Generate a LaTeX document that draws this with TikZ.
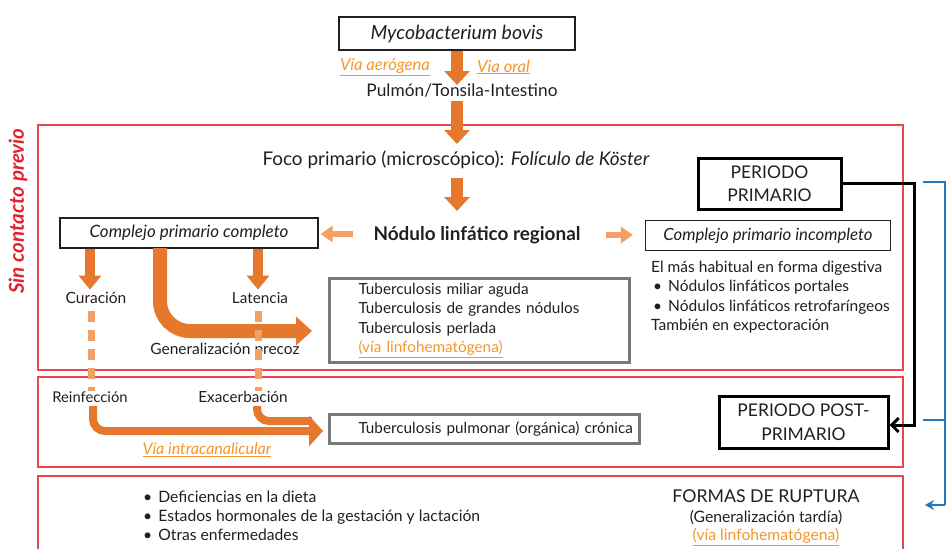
\documentclass[tikz,border=0pt]{standalone}
\usepackage{fontspec}
\setmainfont{Lato}
\usetikzlibrary{arrows.meta}
\definecolor{orA}{RGB}{229,120,45}
\definecolor{orL}{RGB}{242,160,100}
\definecolor{orT}{RGB}{245,150,45}
\definecolor{redB}{RGB}{230,72,78}
\definecolor{redT}{RGB}{226,35,45}
\definecolor{blueB}{RGB}{35,120,190}
\definecolor{grayB}{RGB}{120,120,120}
\definecolor{txtC}{RGB}{35,31,32}
\tikzset{
  txt/.style={inner sep=0pt, text=txtC, font=\fontsize{15.3}{18}\selectfont},
  big/.style={inner sep=0pt, text=txtC, font=\fontsize{17.3}{20}\selectfont},
  link/.style={inner sep=0pt, text=orT, font=\fontsize{16}{19}\selectfont\itshape},
  thinbox/.style={draw=txtC, line width=1.2pt, inner sep=0pt, fill=white},
  graybox/.style={draw=grayB, line width=3pt, inner sep=0pt, fill=white},
  blackbox/.style={draw=black, line width=3pt, inner sep=0pt, fill=white, align=center, text=txtC, font=\fontsize{17.5}{23.5}\selectfont},
  redbox/.style={draw=redB, line width=2.5pt},
  fatarrow/.style={draw=orA, line width=12pt, -{Triangle[length=14pt,width=25pt]}},
  midarrow/.style={draw=orA, line width=10pt, -{Triangle[length=14pt,width=22pt]}},
  sidearrow/.style={draw=orL, line width=6pt, -{Triangle[length=12pt,width=16pt]}},
  curvearrow/.style={draw=orA, line width=14pt, -{Triangle[length=16pt,width=28pt]}, rounded corners=30pt},
  dashlink/.style={draw=orL, line width=7pt, dash pattern=on 11pt off 8pt},
  canalarrow/.style={draw=orA, line width=8pt, rounded corners=12pt},
}
\begin{document}
\begin{tikzpicture}[x=1pt,y=-1pt]
\path[use as bounding box, fill=white] (0,0) rectangle (948,549);

% red frames
\draw[redbox] (38,125) rectangle (903,370);
\draw[redbox] (38,377) rectangle (903,467);
\draw[redbox] (38,549) -- (38,476) -- (903,476) -- (903,549);

\node[rotate=90, text=redT, font=\fontsize{20.5}{24}\selectfont\bfseries\itshape, inner sep=0pt] (sincont) at (18,211) {Sin contacto previo};

% top
\node[thinbox, minimum width=236pt, minimum height=33pt, font=\fontsize{19.5}{22}\selectfont\itshape, text=txtC] (myco) at (457,33.5) {Mycobacterium bovis};
\node[link, font=\fontsize{16.6}{19}\selectfont\itshape] (aero) at (385,67) {\underline{Vía aerógena}};
\node[link, font=\fontsize{16.6}{19}\selectfont\itshape] (oral) at (503.5,67) {\underline{Via oral}};
\node[big] (pulmon) at (462,91) {Pulmón/Tonsila-Intestino};
\coordinate (tipA) at (457,85);
\coordinate (startB) at (457,101);
\coordinate (tipB) at (457,144);

\node[big, font=\fontsize{18.9}{22}\selectfont] (foco) at (456,160) {Foco primario (microscópico): \textit{Folículo de Köster}};
\node[big, font=\fontsize{18.9}{22}\selectfont\bfseries] (nodulo) at (477,235) {Nódulo linfático regional};

\node[thinbox, minimum width=258pt, minimum height=30pt, text=txtC, font=\fontsize{17}{20}\selectfont\itshape] (cpc) at (189,233) {Complejo primario completo};
\node[thinbox, minimum width=245pt, minimum height=30pt, text=txtC, font=\fontsize{16.8}{20}\selectfont\itshape] (cpi) at (768,235.5) {Complejo primario incompleto};

\node[blackbox, minimum width=143pt, minimum height=51pt] (pprim) at (769.5,183.5) {PERIODO\\PRIMARIO};
\node[blackbox, minimum width=169pt, minimum height=52pt] (ppost) at (803.5,422) {PERIODO POST-\\PRIMARIO};

\node[txt, anchor=north west, align=left, font=\fontsize{15.5}{19.2}\selectfont] (habitual) at (651,261)
 {El más habitual en forma digestiva\\
  \hspace*{2pt}\textbullet\hspace{6pt}Nódulos linfáticos portales\\
  \hspace*{2pt}\textbullet\hspace{6pt}Nódulos linfáticos retrofaríngeos\\
  También en expectoración};

\node[txt, font=\fontsize{15.5}{18}\selectfont] (curacion) at (96,298) {Curación};
\node[txt] (latencia) at (260,298) {Latencia};
\node[txt, font=\fontsize{15.5}{18}\selectfont] (genprec) at (225,350) {Generalización precoz};

\node[graybox, anchor=north west, minimum width=300pt, minimum height=84pt, text width=300pt, align=left, text=txtC, font=\fontsize{15.3}{19.5}\selectfont] (miliar) at (328,277)
 {\hspace*{29pt}Tuberculosis miliar aguda\\
  \hspace*{29pt}Tuberculosis de grandes nódulos\\
  \hspace*{29pt}Tuberculosis perlada\\
  \hspace*{29pt}{\color{orT}\underline{(vía linfohematógena)}}};

\node[txt, font=\fontsize{14.8}{18}\selectfont] (reinf) at (90,397) {Reinfección};
\node[txt] (exac) at (243,397) {Exacerbación};
\node[graybox, anchor=north west, minimum width=310pt, minimum height=29pt, text width=310pt, align=left, text=txtC, font=\fontsize{15.3}{18}\selectfont] (pulmonar) at (328,413)
 {\hspace*{29pt}Tuberculosis pulmonar (orgánica) crónica};
\node[link] (intra) at (207,450) {\underline{Vía intracanalicular}};

\node[txt, anchor=north west, align=left, font=\fontsize{15.7}{19}\selectfont] (factores) at (143,491)
 {\textbullet\hspace{6pt}Deficiencias en la dieta\\
  \textbullet\hspace{6pt}Estados hormonales de la gestación y lactación\\
  \textbullet\hspace{6pt}Otras enfermedades};
\node[big, font=\fontsize{17.7}{20}\selectfont] (formas) at (766,496) {FORMAS DE RUPTURA};
\node[txt, font=\fontsize{15.7}{18}\selectfont] (gentard) at (766,518) {(Generalización tardía)};
\node[link, font=\fontsize{15.7}{18}\selectfont] (vialinfo) at (766,537) {\underline{(vía linfohematógena)}};

% arrows top
\draw[fatarrow] (myco.south) -- (tipA);
\draw[fatarrow] (startB) -- (tipB);
\draw[fatarrow] (foco.south -| tipB) ++(0,9) -- (457,211);

% side arrows
\coordinate (sL) at (353,234);
\coordinate (sR) at (606,235);
\draw[sidearrow, shorten >=2pt] (sL) -- (cpc.east |- sL);
\draw[sidearrow, shorten >=12pt] (sR) -- (cpi.west |- sR);

% down arrows from cpc
\draw[midarrow] (cpc.south -| curacion) ++(-6,0) coordinate (c1) -- ++(0,41);
\draw[midarrow] (cpc.south -| latencia) ++(-2,0) coordinate (c2) -- ++(0,41);

% big curve
\coordinate (gtip) at (312,331);
\draw[curvearrow] (160,248) |- (gtip);

% dashed links
\draw[dashlink] (curacion.south -| 91,0) ++(0,7) -- (reinf.north -| 91,0);
\draw[dashlink] (latencia.south -| 258,0) ++(0,7) -- (exac.north -| 258,0);

% intracanalicular
\coordinate (ctipB) at (312,421);
\coordinate (ctipA) at (310,431);
\draw[canalarrow] (257,406) |- (ctipB);
\draw[canalarrow, shorten >=5pt, -{Triangle[length=14pt,width=30pt]}] (93,406) |- (pulmonar.west |- ctipA);

% black connector
\draw[line width=3pt, -{Straight Barb[length=7pt,width=14pt]}] (pprim.east) -| (914,425) -- (ppost.east |- 0,425);

% blue bracket
\coordinate (bTop) at (923,182);
\coordinate (bMid) at (923,420);
\coordinate (bTip) at (925,505);
\draw[blueB, line width=2.2pt] (bTop) -- (945,182) -- (945,505);
\draw[blueB, line width=2.2pt] (bMid) -- (945,420);
\draw[blueB, line width=2.2pt, -{Stealth[length=9pt,width=10pt]}] (945,505) -- (bTip);
\end{tikzpicture}
\end{document}
